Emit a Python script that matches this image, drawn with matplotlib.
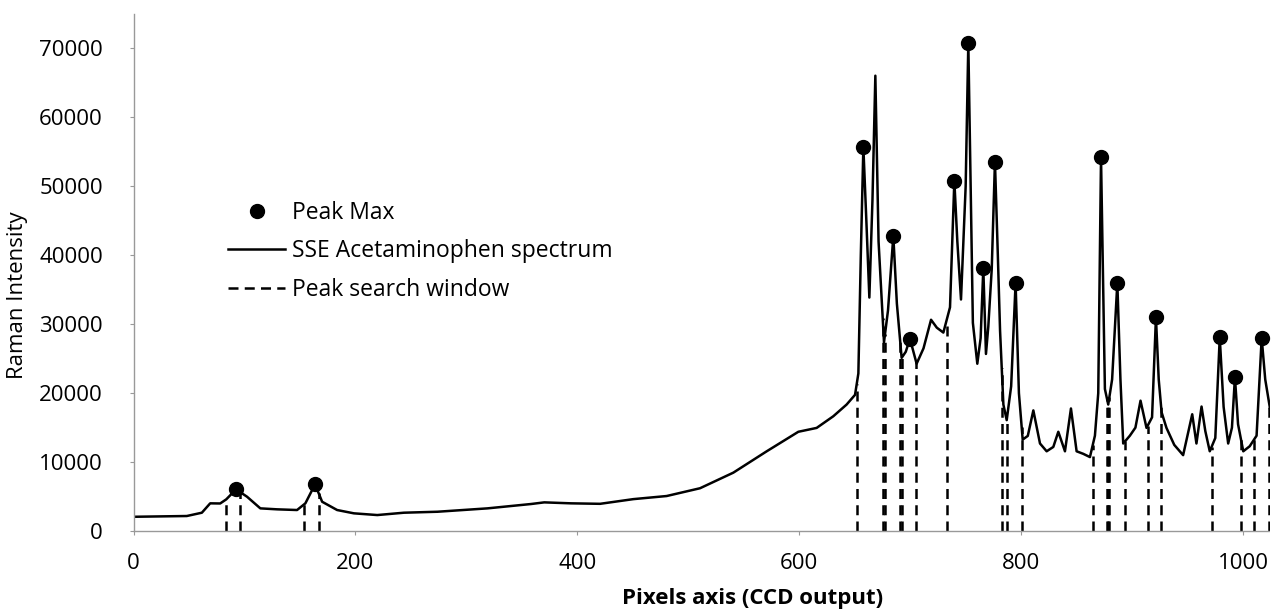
import numpy as np
import matplotlib
matplotlib.use("Agg")
import matplotlib.pyplot as plt

# SSE acetaminophen spectrum (CCD pixel, intensity)
spec_x = [0, 48, 61.6, 69.1, 78.1, 83.6, 92.4, 102.3, 114.3, 129.4, 147.4, 154.9,
          163.6, 170, 183.5, 198.6, 219.7, 243.7, 273.9, 319, 358.2, 370.2, 394.3,
          420.5, 450.5, 480.5, 510.6, 540.6, 570.7, 599.2, 615.7, 630.7, 642.7,
          650.3, 653.3, 655.5, 657.8, 660.5, 663.2, 666, 668.6, 671.5, 676.4,
          680, 684.8, 688, 692.3, 696, 699.8, 705.8, 712, 718.8, 724, 729.9,
          735.9, 739.8, 742.5, 745.8, 750.0, 752.4, 756.5, 760.5, 763.5, 765.9,
          768.3, 770.4, 773.5, 776.4, 779, 781, 784, 787, 791, 795, 798, 801.4,
          806, 811, 817, 823, 829, 833.5, 839.5, 844.9, 850, 856, 862, 866.5,
          869.5, 872, 874.5, 875.5, 878.5, 882, 886.7, 889.5, 892, 898, 903,
          907.6, 913, 918, 921.5, 924, 926.6, 931, 938, 946, 954.2, 958, 962.6,
          966, 970, 975, 979, 982.5, 986.6, 990, 992.7, 995.5, 1000.2, 1006,
          1012.2, 1016.8, 1020, 1024.3]
spec_y = [2070, 2180, 2660, 4020, 4000, 4600, 6050, 4980, 3290, 3150, 3050, 4020,
          6770, 4250, 3050, 2570, 2320, 2660, 2800, 3290, 3920, 4160, 4020,
          3950, 4630, 5080, 6210, 8470, 11570, 14400, 14960, 16650, 18350,
          19760, 22860, 40000, 55700, 45000, 33870, 48000, 66050, 42000, 27380,
          32000, 42800, 33000, 25120, 26000, 27900, 24270, 26500, 30650, 29500, 28790,
          32460, 50800, 42000, 33590, 50000, 70800, 30200, 24270, 28000, 38100,
          25690, 29640, 38000, 53600, 40000, 29070, 18350, 16090, 21000, 36000, 20000, 13270,
          13800, 17500, 12700, 11570, 12200, 14400, 11570, 17780, 11570, 11200, 10730, 13830,
          20000, 54200, 30000, 20600, 18350, 22000, 36000, 22000, 12700, 13830, 15000,
          18910, 14960, 16500, 31000, 22000, 17220, 14960, 12500, 11010, 16940, 12700, 18060,
          14500, 11570, 13500, 28100, 18000, 12700, 15000, 22300, 15500, 11570, 12300,
          13830, 28000, 22000, 17780]

# peak maxima found by the search
peak_x = [92.4, 163.6, 657.8, 684.8, 699.8, 739.8, 752.4, 765.9, 776.4, 795,
          872, 886.7, 921.5, 979, 992.7, 1016.8]
peak_y = [6050, 6770, 55700, 42800, 27900, 50800, 70800, 38100, 53600, 36000,
          54200, 36000, 31000, 28100, 22300, 28000]

# search window edges
window_x = [83.4, 96, 153.7, 166.9, 651.8, 675.2, 677.3, 690.8, 692.3, 705.2,
            732.9, 782.5, 787, 800.5, 864.5, 877.1, 878.6, 879.5, 893.6, 914,
            925.8, 971.7, 997.8, 1010.2, 1023.4]
window_top = np.interp(window_x, spec_x, spec_y)

plt.rcParams["font.family"] = ["Open Sans", "DejaVu Sans"]

fig = plt.figure(figsize=(12.74, 6.09), dpi=100)
ax = fig.add_axes([0.1048, 0.128, 0.8918, 0.849])

ax.vlines(window_x, 0, window_top, colors="black", linewidth=1.8,
          linestyles=(0, (4, 2.5)), label="Peak search window")
ax.plot(spec_x, spec_y, color="black", linewidth=1.8,
        label="SSE Acetaminophen spectrum")
ax.plot(peak_x, peak_y, "o", color="black", markersize=10, label="Peak Max")

ax.set_xlim(0, 1024)
ax.set_ylim(0, 75000)
ax.set_xticks(range(0, 1001, 200))
ax.set_yticks(range(0, 70001, 10000))
ax.tick_params(labelsize=16, length=3, color="#999999")
ax.tick_params(axis="x", pad=13)
ax.tick_params(axis="y", pad=19)

for side in ["top", "right"]:
    ax.spines[side].set_visible(False)
for side in ["left", "bottom"]:
    ax.spines[side].set_color("#999999")
    ax.spines[side].set_linestyle((0, (1, 1)))
    ax.spines[side].set_linewidth(1)

ax.set_xlabel("Pixels axis (CCD output)", fontsize=16, fontweight="bold")
ax.xaxis.set_label_coords(0.545, -0.11)
ax.set_ylabel("Raman Intensity", fontsize=16)
ax.yaxis.set_label_coords(-0.093, 0.456)

handles, labels = ax.get_legend_handles_labels()
order = [2, 1, 0]
ax.legend([handles[i] for i in order], [labels[i] for i in order],
          loc="upper left", bbox_to_anchor=(0.065, 0.678), frameon=False,
          fontsize=16.5, handlelength=2.5, handletextpad=0.3, labelspacing=0.62)

fig.savefig("out.png", dpi=100)
